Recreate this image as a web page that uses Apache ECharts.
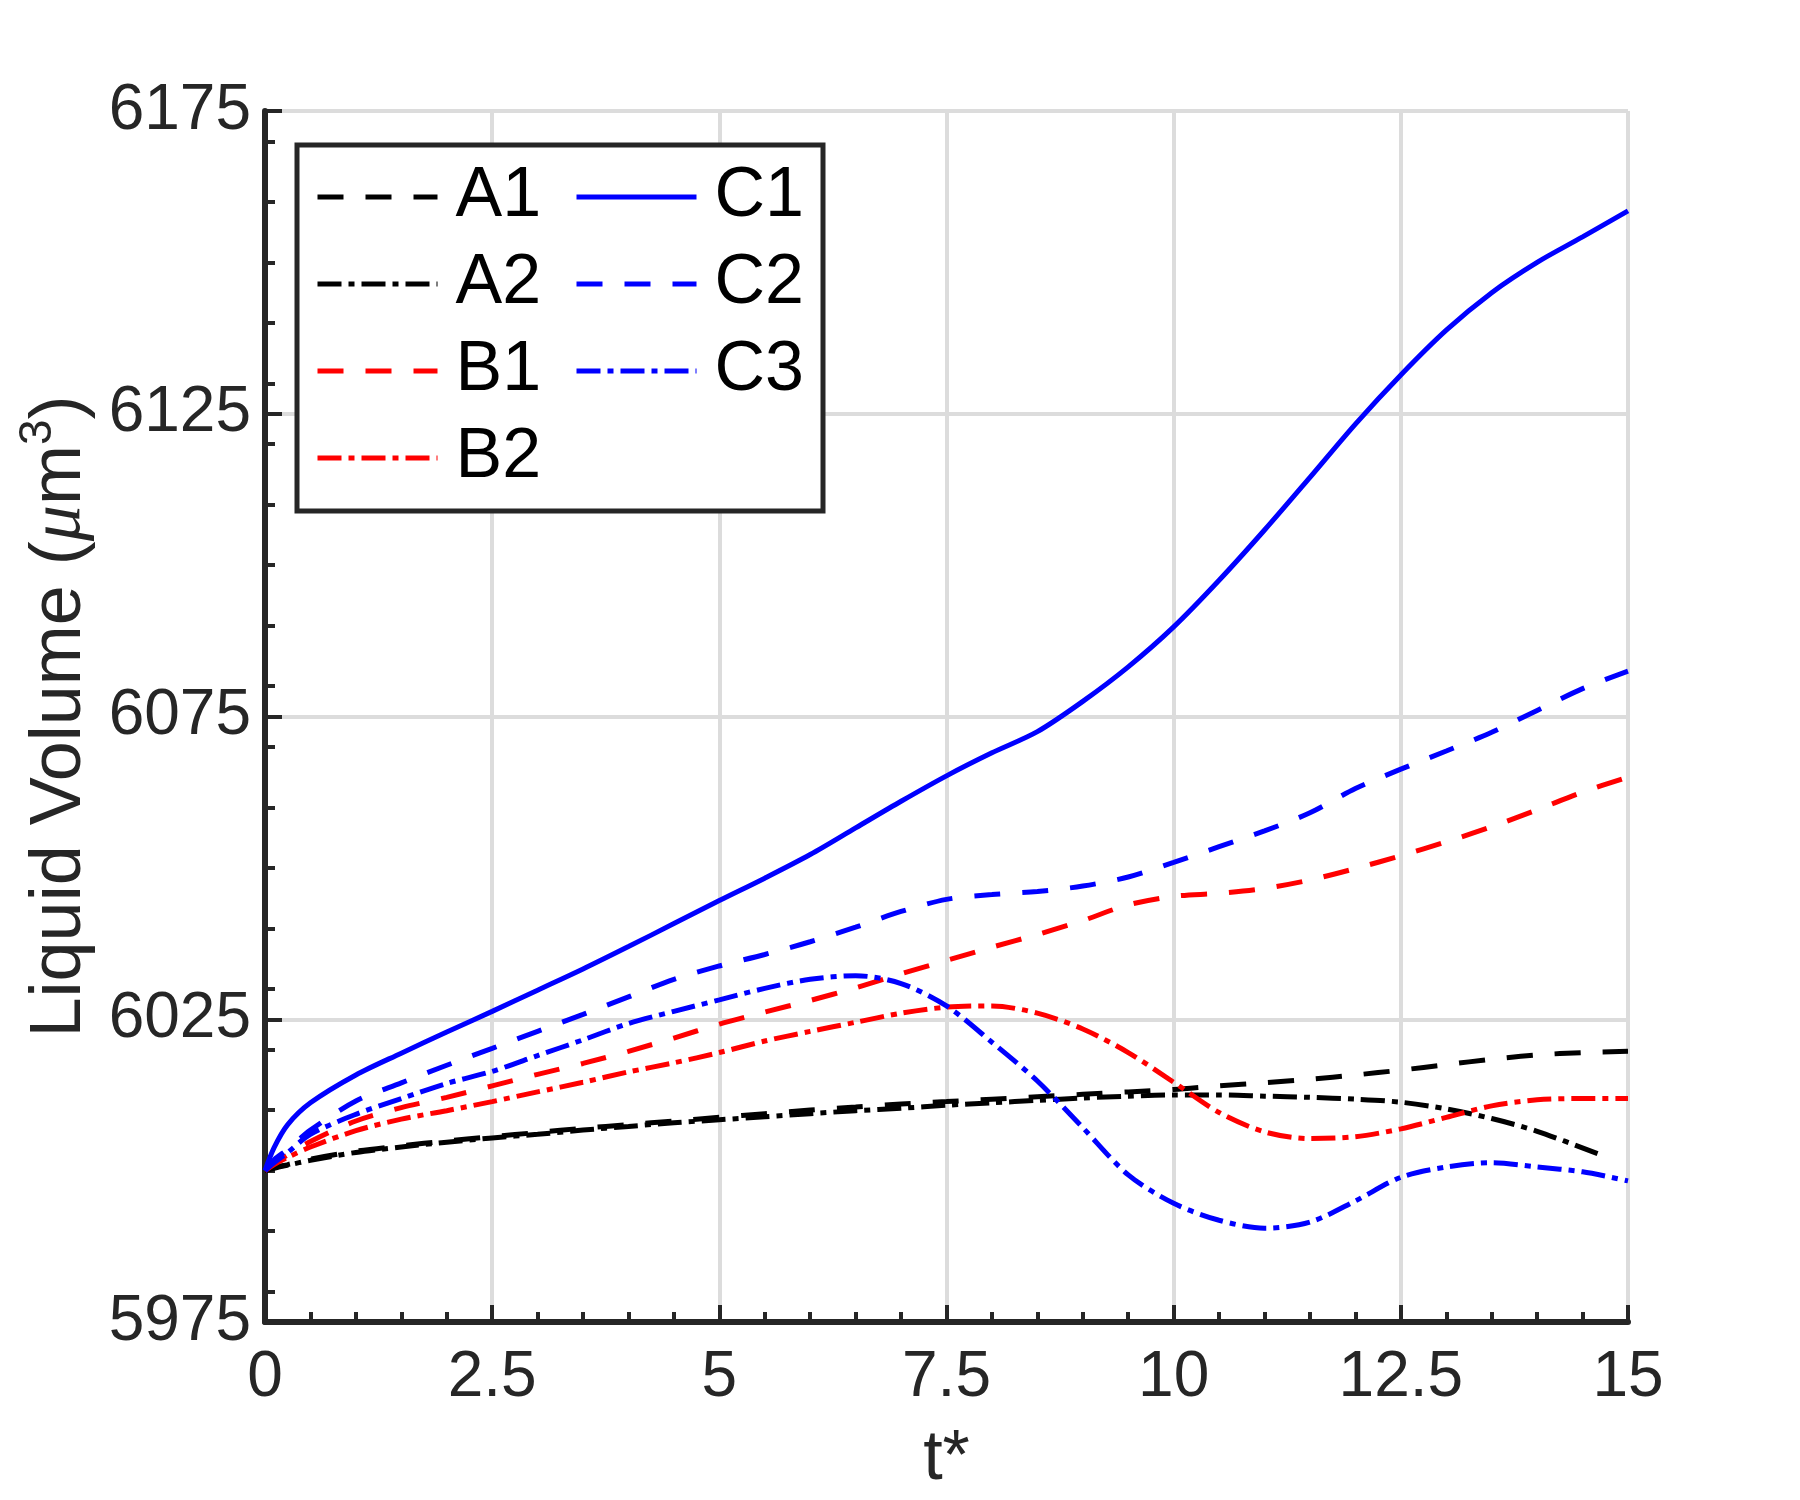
<!DOCTYPE html>
<html>
<head>
<meta charset="utf-8">
<script src="https://cdn.jsdelivr.net/npm/echarts@6/dist/echarts.min.js"></script>
<style>
  html, body { margin: 0; padding: 0; background: #fff; }
  #main { width: 1800px; height: 1500px; }
</style>
</head>
<body>
<div id="main"></div>
<script>
// time samples (t*)
const tVals = [0, 0.1, 0.25, 0.5, 1, 1.5, 2, 2.5, 3, 3.5, 4, 4.5, 5, 5.5, 6, 6.5, 7, 7.5,
  8, 8.5, 9, 9.5, 10, 10.5, 11, 11.5, 12, 12.5, 13, 13.5, 14, 14.5, 15];
// A2 stops a little before t*=15
const tA2 = [0, 0.1, 0.25, 0.5, 1, 1.5, 2, 2.5, 3, 3.5, 4, 4.5, 5, 5.5, 6, 6.5, 7, 7.5,
  8, 8.5, 9, 9.5, 10, 10.5, 11, 11.5, 12, 12.5, 13, 13.5, 14, 14.7];

const A1 = [6000, 6000.5, 6001, 6001.9, 6003.2, 6004.1, 6004.9, 6005.6, 6006.3, 6007, 6007.6, 6008.2,
  6008.8, 6009.4, 6010, 6010.5, 6011, 6011.4, 6011.8, 6012.2, 6012.6, 6013, 6013.4, 6014, 6014.5,
  6015.1, 6015.8, 6016.6, 6017.5, 6018.4, 6019.1, 6019.5, 6019.7];
const A2 = [6000, 6000.4, 6000.9, 6001.7, 6003, 6003.9, 6004.7, 6005.4, 6006, 6006.7, 6007.3, 6007.9,
  6008.4, 6008.9, 6009.4, 6009.9, 6010.3, 6010.8, 6011.2, 6011.6, 6012, 6012.3, 6012.5, 6012.5, 6012.3,
  6012.1, 6011.8, 6011.3, 6010.2, 6008.6, 6006.5, 6002.6];
const B1 = [6000, 6001.2, 6002.6, 6004.8, 6008.2, 6010.4, 6012.1, 6014, 6015.9, 6017.7, 6019.7, 6021.9,
  6024.2, 6026.2, 6028.1, 6030.2, 6032.5, 6034.7, 6036.9, 6039, 6041.3, 6043.9, 6045.3, 6045.8, 6046.6,
  6048, 6049.9, 6052, 6054.3, 6056.8, 6059.6, 6062.5, 6065];
const B2 = [6000, 6001, 6002.2, 6003.9, 6006.6, 6008.5, 6009.9, 6011.4, 6013, 6014.6, 6016.3, 6017.8,
  6019.5, 6021.4, 6023, 6024.5, 6026, 6027, 6027.2, 6026, 6023.4, 6019.5, 6014.6, 6009.6, 6006.4,
  6005.3, 6005.6, 6006.9, 6008.8, 6010.7, 6011.7, 6011.9, 6011.9];
const C1 = [6000, 6003.8, 6007.6, 6011.2, 6015.8, 6019.4, 6022.9, 6026.3, 6029.8, 6033.3, 6037, 6040.8,
  6044.6, 6048.3, 6052.2, 6056.6, 6061, 6065.2, 6069, 6072.5, 6077.5, 6083.2, 6089.8, 6097.5, 6105.8,
  6114.5, 6123.3, 6131.4, 6138.8, 6145, 6150, 6154.2, 6158.5];
const C2 = [6000, 6001.8, 6003.5, 6006.7, 6011.5, 6014.5, 6017.4, 6020.2, 6023, 6025.8, 6028.7, 6031.6,
  6033.8, 6035.7, 6037.8, 6040.2, 6042.8, 6044.8, 6045.6, 6046.1, 6047, 6048.5, 6050.9, 6053.5, 6056.1,
  6059.1, 6063.1, 6066.3, 6069.3, 6072.4, 6076, 6079.6, 6082.5];
const C3 = [6000, 6001.3, 6003, 6006, 6009.3, 6011.9, 6014.4, 6016.4, 6019, 6021.6, 6024.3, 6026.3,
  6028.2, 6030.1, 6031.6, 6032.2, 6030.9, 6027.2, 6021.2, 6014.8, 6007.1, 5999.3, 5994.6, 5991.8, 5990.5,
  5991.5, 5995, 5998.9, 6000.6, 6001.3, 6000.6, 5999.8, 5998.3];

// y minor ticks sit on multiples of 10
const yMinorTicks = [5980, 5990, 6000, 6010, 6020, 6030, 6040, 6050, 6060, 6070, 6080, 6090,
  6100, 6110, 6120, 6130, 6140, 6150, 6160, 6170];

const font = 'Liberation Sans';
const ink = '#262626';
const dashed = [26, 22];
const dashDot = [24, 7, 6, 7];

function pairs(xs, ys) {
  return xs.map((x, i) => [x, ys[i]]);
}

function line(name, xs, ys, color, dash) {
  return {
    name: name,
    type: 'line',
    data: pairs(xs, ys),
    symbol: 'none',
    smooth: 0.3,
    lineStyle: { color: color, width: 5, type: dash },
    itemStyle: { color: color },
    z: 2
  };
}

const chart = echarts.init(document.getElementById('main'));

const legendCommon = {
  orient: 'vertical',
  top: 162,
  padding: 0,
  itemWidth: 120,
  itemHeight: 20,
  itemGap: 17,
  selectedMode: false,
  z: 5,
  itemStyle: { opacity: 0 },
  lineStyle: { width: 5 },
  textStyle: { fontFamily: font, fontSize: 70, color: '#000', lineHeight: 70, padding: [0, 0, 0, 13] }
};

const option = {
  backgroundColor: '#fff',
  animation: false,
  grid: { left: 265, right: 172, top: 111, bottom: 173, containLabel: false },
  graphic: [{
    type: 'rect',
    z: 3,
    shape: { x: 297, y: 145, width: 526, height: 366 },
    style: { fill: '#fff', stroke: ink, lineWidth: 5 }
  }],
  legend: [
    Object.assign({ left: 315, data: ['A1', 'A2', 'B1', 'B2'] }, legendCommon),
    Object.assign({ left: 574, data: ['C1', 'C2', 'C3'] }, legendCommon)
  ],
  xAxis: {
    type: 'value',
    min: 0, max: 15, interval: 2.5,
    name: 't*',
    nameLocation: 'middle',
    nameGap: 103,
    nameTextStyle: { fontFamily: font, fontSize: 70, color: ink },
    axisLine: { lineStyle: { color: ink, width: 6 } },
    axisTick: { inside: true, length: 17, lineStyle: { color: ink, width: 4 } },
    minorTick: { show: true, splitNumber: 5, length: 10, lineStyle: { color: ink, width: 4 } },
    axisLabel: { fontFamily: font, fontSize: 64, color: ink, margin: 24 },
    splitLine: { show: true, lineStyle: { color: '#dcdcdc', width: 4 } }
  },
  yAxis: [{
    type: 'value',
    min: 5975, max: 6175, interval: 50,
    position: 'left',
    name: '{n|Liquid Volume (}{mu|μ}{n|m}{sup|3}{n|)}',
    nameLocation: 'middle',
    nameGap: 160,
    nameTextStyle: {
      color: ink,
      rich: {
        n: { fontFamily: font, fontSize: 72, color: ink },
        mu: { fontFamily: 'Liberation Serif', fontStyle: 'italic', fontSize: 72, color: ink },
        sup: { fontFamily: font, fontSize: 46, color: ink, padding: [0, 0, 44, 0] }
      }
    },
    axisLine: { show: true, lineStyle: { color: ink, width: 6 } },
    axisTick: { inside: true, length: 17, lineStyle: { color: ink, width: 4 } },
    axisLabel: {
      fontFamily: font, fontSize: 64, color: ink, margin: 14,
      formatter: v => String(v)
    },
    splitLine: { show: true, lineStyle: { color: '#dcdcdc', width: 4 } }
  }, {
    type: 'value',
    min: 5975, max: 6175,
    position: 'left',
    offset: 0,
    axisLine: { show: false },
    axisLabel: { show: false },
    splitLine: { show: false },
    axisTick: {
      show: true, inside: true, length: 10,
      customValues: yMinorTicks,
      lineStyle: { color: ink, width: 4 }
    }
  }],
  series: [
    line('A1', tVals, A1, '#000000', dashed),
    line('A2', tA2, A2, '#000000', dashDot),
    line('B1', tVals, B1, '#ff0000', dashed),
    line('B2', tVals, B2, '#ff0000', dashDot),
    line('C1', tVals, C1, '#0000ff', 'solid'),
    line('C2', tVals, C2, '#0000ff', dashed),
    line('C3', tVals, C3, '#0000ff', dashDot)
  ]
};

chart.setOption(option);
</script>
</body>
</html>
